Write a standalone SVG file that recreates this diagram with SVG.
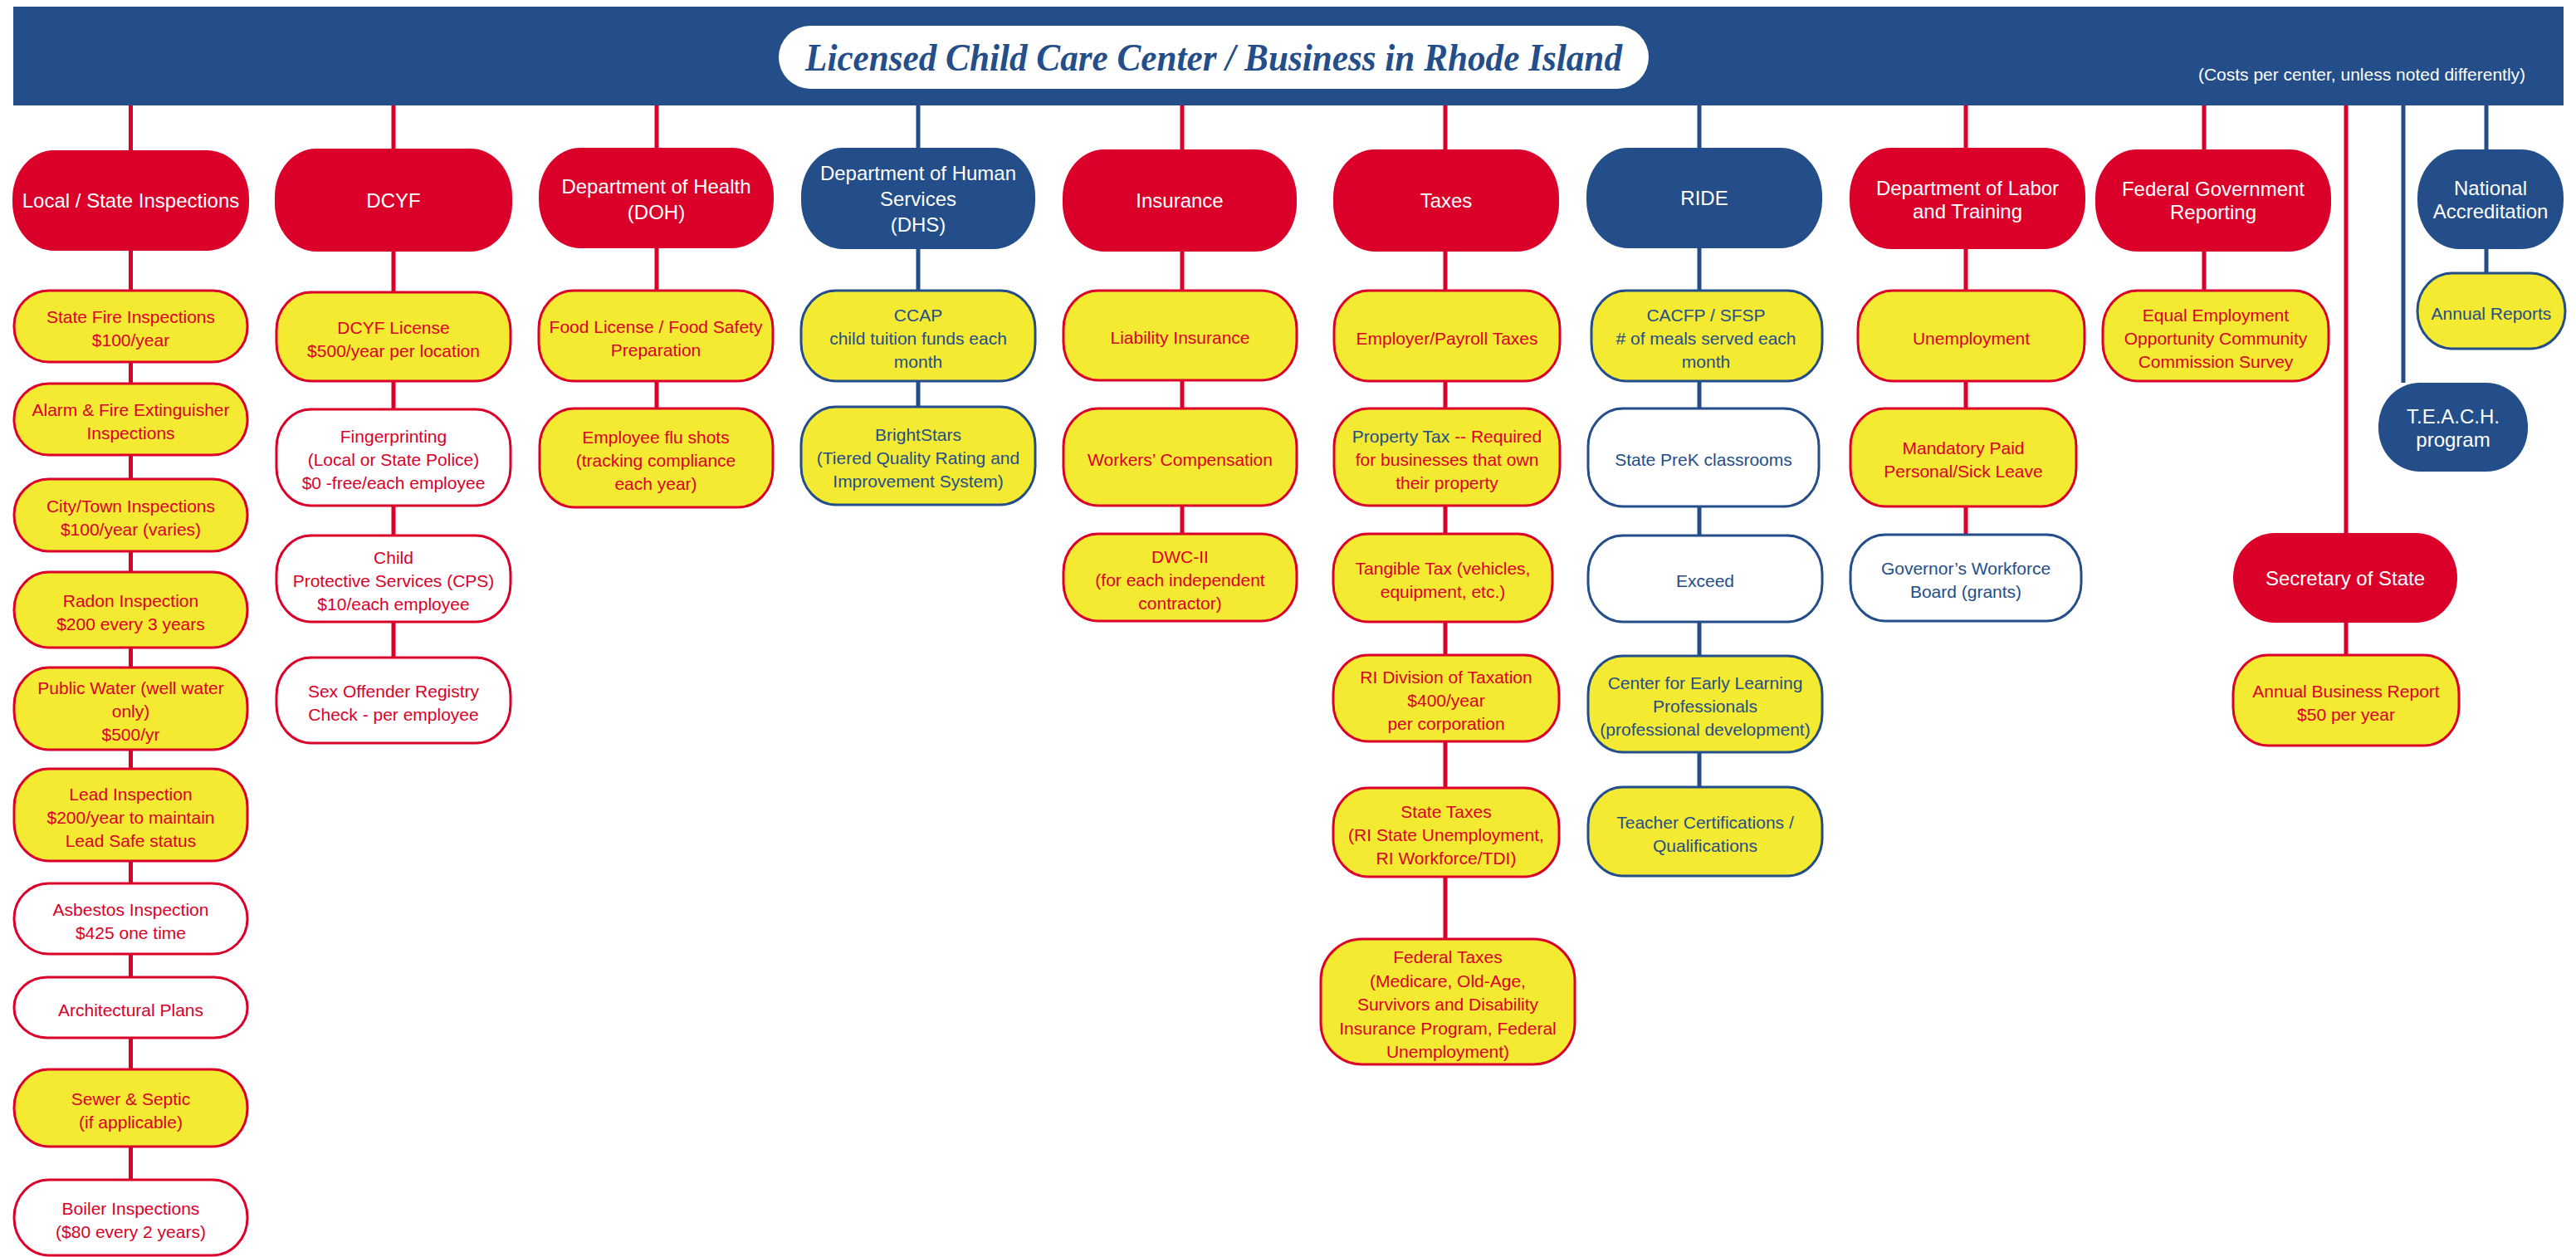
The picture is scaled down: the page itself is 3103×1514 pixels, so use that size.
<svg xmlns="http://www.w3.org/2000/svg" width="3103" height="1514" viewBox="0 0 3103 1514">
<style>
.hr{fill:#DA0029}
.hb{fill:#234E89}
.yr{fill:#F5EA32;stroke:#DA0029;stroke-width:3}
.yb{fill:#F5EA32;stroke:#234E89;stroke-width:3}
.wr{fill:#FFFFFF;stroke:#DA0029;stroke-width:3}
.wb{fill:#FFFFFF;stroke:#234E89;stroke-width:3}
text{font-family:"Liberation Sans",Arial,sans-serif;text-anchor:middle}
.th{font-size:24px;fill:#FFFFFF}
.tr{font-size:21px;fill:#DA0029}
.tb{font-size:21px;fill:#234E89}
.cr{stroke:#DA0029;stroke-width:5;fill:none}
.cb{stroke:#234E89;stroke-width:5;fill:none}
</style>
<rect width="3103" height="1514" fill="#FFFFFF"/>
<g id="banner">
<rect x="16" y="8" width="3072" height="119" fill="#234E89"/>
<rect x="938" y="31" width="1048" height="76" rx="38" ry="38" fill="#FFFFFF"/>
<text x="1462" y="85" font-family="'Liberation Serif',serif" font-style="italic" font-weight="bold" font-size="46" fill="#234E89" textLength="984" lengthAdjust="spacingAndGlyphs" style="font-family:'Liberation Serif',serif">Licensed Child Care Center / Business in Rhode Island</text>
<text x="2845" y="97" font-size="21" fill="#FFFFFF" style="font-size:21px">(Costs per center, unless noted differently)</text>
</g>
<g id="connectors">
<line class="cr" x1="157.5" y1="127" x2="157.5" y2="1421"/>
<line class="cr" x1="474" y1="127" x2="474" y2="792"/>
<line class="cr" x1="791" y1="127" x2="791" y2="492"/>
<line class="cb" x1="1106" y1="127" x2="1106" y2="490"/>
<line class="cr" x1="1424" y1="127" x2="1424" y2="643"/>
<line class="cr" x1="1741" y1="127" x2="1741" y2="1131"/>
<line class="cb" x1="2047" y1="127" x2="2047" y2="948"/>
<line class="cr" x1="2368" y1="127" x2="2368" y2="644"/>
<line class="cr" x1="2655" y1="127" x2="2655" y2="350"/>
<line class="cr" x1="2826" y1="127" x2="2826" y2="789"/>
<line class="cb" x1="2895" y1="127" x2="2895" y2="461"/>
<line class="cb" x1="2995" y1="127" x2="2995" y2="329"/>
</g>
<g id="local">
<rect class="hr" x="15" y="181" width="285" height="121" rx="50" ry="58"/>
<text class="th" x="157.5" y="250">Local / State Inspections</text>
</g>
<g id="state-fire"><rect class="yr" x="17" y="350" width="281" height="86" rx="42" ry="42"/><text class="tr" x="157.5" y="389">State Fire Inspections</text><text class="tr" x="157.5" y="417">$100/year</text></g>
<g id="alarm"><rect class="yr" x="17" y="462" width="281" height="86" rx="42" ry="42"/><text class="tr" x="157.5" y="501">Alarm &amp; Fire Extinguisher</text><text class="tr" x="157.5" y="529">Inspections</text></g>
<g id="city"><rect class="yr" x="17" y="577" width="281" height="87" rx="42" ry="43"/><text class="tr" x="157.5" y="616.5">City/Town Inspections</text><text class="tr" x="157.5" y="644.5">$100/year (varies)</text></g>
<g id="radon"><rect class="yr" x="17" y="689" width="281" height="91" rx="42" ry="45"/><text class="tr" x="157.5" y="730.5">Radon Inspection</text><text class="tr" x="157.5" y="758.5">$200 every 3 years</text></g>
<g id="water"><rect class="yr" x="17" y="804" width="281" height="99" rx="42" ry="46"/><text class="tr" x="157.5" y="835.5">Public Water (well water</text><text class="tr" x="157.5" y="863.5">only)</text><text class="tr" x="157.5" y="891.5">$500/yr</text></g>
<g id="lead"><rect class="yr" x="17" y="926" width="281" height="111" rx="42" ry="46"/><text class="tr" x="157.5" y="963.5">Lead Inspection</text><text class="tr" x="157.5" y="991.5">$200/year to maintain</text><text class="tr" x="157.5" y="1019.5">Lead Safe status</text></g>
<g id="asbestos"><rect class="wr" x="17" y="1064" width="281" height="85" rx="42" ry="42"/><text class="tr" x="157.5" y="1102.5">Asbestos Inspection</text><text class="tr" x="157.5" y="1130.5">$425 one time</text></g>
<g id="arch"><rect class="wr" x="17" y="1177" width="281" height="73" rx="40" ry="36"/><text class="tr" x="157.5" y="1223.5">Architectural Plans</text></g>
<g id="sewer"><rect class="yr" x="17" y="1288" width="281" height="93" rx="42" ry="46"/><text class="tr" x="157.5" y="1330.5">Sewer &amp; Septic</text><text class="tr" x="157.5" y="1358.5">(if applicable)</text></g>
<g id="boiler"><rect class="wr" x="17" y="1421" width="281" height="91" rx="42" ry="45"/><text class="tr" x="157.5" y="1462.5">Boiler Inspections</text><text class="tr" x="157.5" y="1490.5">($80 every 2 years)</text></g>
<g id="dcyf">
<rect class="hr" x="331" y="179" width="286" height="124" rx="50" ry="58"/>
<text class="th" x="474" y="250">DCYF</text>
</g>
<g id="dcyf-license"><rect class="yr" x="333" y="352" width="282" height="107" rx="42" ry="46"/><text class="tr" x="474" y="401.5">DCYF License</text><text class="tr" x="474" y="429.5">$500/year per location</text></g>
<g id="fingerprinting"><rect class="wr" x="333" y="493" width="282" height="116" rx="42" ry="46"/><text class="tr" x="474" y="533">Fingerprinting</text><text class="tr" x="474" y="561">(Local or State Police)</text><text class="tr" x="474" y="589">$0 -free/each employee</text></g>
<g id="cps"><rect class="wr" x="333" y="645" width="282" height="104" rx="42" ry="46"/><text class="tr" x="474" y="679">Child</text><text class="tr" x="474" y="707">Protective Services (CPS)</text><text class="tr" x="474" y="735">$10/each employee</text></g>
<g id="sex-offender"><rect class="wr" x="333" y="792" width="282" height="103" rx="42" ry="46"/><text class="tr" x="474" y="839.5">Sex Offender Registry</text><text class="tr" x="474" y="867.5">Check - per employee</text></g>
<g id="doh">
<rect class="hr" x="649" y="178" width="283" height="121" rx="50" ry="58"/>
<text class="th" x="790.5" y="233">Department of Health</text>
<text class="th" x="790.5" y="264">(DOH)</text>
</g>
<g id="food"><rect class="yr" x="649" y="350" width="282" height="109" rx="42" ry="46"/><text class="tr" x="790" y="400.5">Food License / Food Safety</text><text class="tr" x="790" y="428.5">Preparation</text></g>
<g id="flu"><rect class="yr" x="650" y="492" width="281" height="119" rx="42" ry="46"/><text class="tr" x="790" y="533.5">Employee flu shots</text><text class="tr" x="790" y="561.5">(tracking compliance</text><text class="tr" x="790" y="589.5">each year)</text></g>
<g id="dhs">
<rect class="hb" x="965" y="178" width="282" height="122" rx="50" ry="58"/>
<text class="th" x="1106" y="217">Department of Human</text>
<text class="th" x="1106" y="248">Services</text>
<text class="th" x="1106" y="279">(DHS)</text>
</g>
<g id="ccap"><rect class="yb" x="965" y="350" width="282" height="109" rx="42" ry="46"/><text class="tb" x="1106" y="386.5">CCAP</text><text class="tb" x="1106" y="414.5">child tuition funds each</text><text class="tb" x="1106" y="442.5">month</text></g>
<g id="brightstars"><rect class="yb" x="965" y="490" width="282" height="118" rx="42" ry="46"/><text class="tb" x="1106" y="531">BrightStars</text><text class="tb" x="1106" y="559">(Tiered Quality Rating and</text><text class="tb" x="1106" y="587">Improvement System)</text></g>
<g id="insurance">
<rect class="hr" x="1280" y="180" width="282" height="123" rx="50" ry="58"/>
<text class="th" x="1421" y="250">Insurance</text>
</g>
<g id="liability"><rect class="yr" x="1281" y="350" width="281" height="108" rx="42" ry="46"/><text class="tr" x="1421.5" y="414">Liability Insurance</text></g>
<g id="workers"><rect class="yr" x="1281" y="492" width="281" height="117" rx="42" ry="46"/><text class="tr" x="1421.5" y="560.5">Workers’ Compensation</text></g>
<g id="dwc"><rect class="yr" x="1281" y="643" width="281" height="105" rx="42" ry="46"/><text class="tr" x="1421.5" y="677.5">DWC-II</text><text class="tr" x="1421.5" y="705.5">(for each independent</text><text class="tr" x="1421.5" y="733.5">contractor)</text></g>
<g id="taxes">
<rect class="hr" x="1606" y="180" width="272" height="123" rx="50" ry="58"/>
<text class="th" x="1742" y="250">Taxes</text>
</g>
<g id="payroll"><rect class="yr" x="1607" y="350" width="272" height="109" rx="42" ry="46"/><text class="tr" x="1743" y="414.5">Employer/Payroll Taxes</text></g>
<g id="property"><rect class="yr" x="1607" y="492" width="272" height="117" rx="42" ry="46"/><text class="tr" x="1743" y="532.5"><tspan fill="#234E89">Property Tax</tspan> -- Required</text><text class="tr" x="1743" y="560.5">for businesses that own</text><text class="tr" x="1743" y="588.5">their property</text></g>
<g id="tangible"><rect class="yr" x="1606" y="643" width="264" height="106" rx="42" ry="46"/><text class="tr" x="1738" y="692">Tangible Tax (vehicles,</text><text class="tr" x="1738" y="720">equipment, etc.)</text></g>
<g id="ri-division"><rect class="yr" x="1606" y="789" width="272" height="104" rx="42" ry="46"/><text class="tr" x="1742" y="823">RI Division of Taxation</text><text class="tr" x="1742" y="851">$400/year</text><text class="tr" x="1742" y="879">per corporation</text></g>
<g id="state-taxes"><rect class="yr" x="1606" y="949" width="272" height="107" rx="42" ry="46"/><text class="tr" x="1742" y="984.5">State Taxes</text><text class="tr" x="1742" y="1012.5">(RI State Unemployment,</text><text class="tr" x="1742" y="1040.5">RI Workforce/TDI)</text></g>
<g id="federal-taxes"><rect class="yr" x="1591" y="1131" width="306" height="151" rx="50" ry="50"/><text class="tr" x="1744" y="1160">Federal Taxes</text><text class="tr" x="1744" y="1188.5">(Medicare, Old-Age,</text><text class="tr" x="1744" y="1217">Survivors and Disability</text><text class="tr" x="1744" y="1245.5">Insurance Program, Federal</text><text class="tr" x="1744" y="1274">Unemployment)</text></g>
<g id="ride">
<rect class="hb" x="1911" y="178" width="284" height="121" rx="50" ry="58"/>
<text class="th" x="2053" y="247">RIDE</text>
</g>
<g id="cacfp"><rect class="yb" x="1917" y="350" width="278" height="109" rx="42" ry="46"/><text class="tb" x="2055" y="386.5">CACFP / SFSP</text><text class="tb" x="2055" y="414.5"># of meals served each</text><text class="tb" x="2055" y="442.5">month</text></g>
<g id="prek"><rect class="wb" x="1913" y="492" width="278" height="118" rx="42" ry="46"/><text class="tb" x="2052" y="561">State PreK classrooms</text></g>
<g id="exceed"><rect class="wb" x="1913" y="645" width="282" height="104" rx="42" ry="46"/><text class="tb" x="2054" y="707">Exceed</text></g>
<g id="celp"><rect class="yb" x="1913" y="790" width="282" height="116" rx="42" ry="46"/><text class="tb" x="2054" y="830">Center for Early Learning</text><text class="tb" x="2054" y="858">Professionals</text><text class="tb" x="2054" y="886">(professional development)</text></g>
<g id="teacher"><rect class="yb" x="1913" y="948" width="282" height="107" rx="42" ry="46"/><text class="tb" x="2054" y="997.5">Teacher Certifications /</text><text class="tb" x="2054" y="1025.5">Qualifications</text></g>
<g id="dol">
<rect class="hr" x="2228" y="178" width="284" height="122" rx="50" ry="58"/>
<text class="th" x="2370" y="235">Department of Labor</text>
<text class="th" x="2370" y="263">and Training</text>
</g>
<g id="unemployment"><rect class="yr" x="2238" y="350" width="273" height="109" rx="42" ry="46"/><text class="tr" x="2374.5" y="414.5">Unemployment</text></g>
<g id="sick-leave"><rect class="yr" x="2229" y="492" width="272" height="118" rx="42" ry="46"/><text class="tr" x="2365" y="547">Mandatory Paid</text><text class="tr" x="2365" y="575">Personal/Sick Leave</text></g>
<g id="governor"><rect class="wb" x="2229" y="644" width="278" height="104" rx="42" ry="46"/><text class="tb" x="2368" y="692">Governor’s Workforce</text><text class="tb" x="2368" y="720">Board (grants)</text></g>
<g id="federal-gov">
<rect class="hr" x="2524" y="180" width="284" height="123" rx="50" ry="58"/>
<text class="th" x="2666" y="236">Federal Government</text>
<text class="th" x="2666" y="264">Reporting</text>
</g>
<g id="eeo"><rect class="yr" x="2533" y="350" width="272" height="109" rx="42" ry="46"/><text class="tr" x="2669" y="386.5">Equal Employment</text><text class="tr" x="2669" y="414.5">Opportunity Community</text><text class="tr" x="2669" y="442.5">Commission Survey</text></g>
<g id="sos">
<rect class="hr" x="2690" y="642" width="270" height="108" rx="50" ry="54"/>
<text class="th" x="2825" y="705">Secretary of State</text>
</g>
<g id="annual-business"><rect class="yr" x="2690" y="789" width="272" height="109" rx="42" ry="46"/><text class="tr" x="2826" y="839.5">Annual Business Report</text><text class="tr" x="2826" y="867.5">$50 per year</text></g>
<g id="teach">
<rect class="hb" x="2865" y="461" width="180" height="107" rx="50" ry="52"/>
<text class="th" x="2955" y="510">T.E.A.C.H.</text>
<text class="th" x="2955" y="538">program</text>
</g>
<g id="national">
<rect class="hb" x="2912" y="180" width="176" height="120" rx="50" ry="58"/>
<text class="th" x="3000" y="235">National</text>
<text class="th" x="3000" y="263">Accreditation</text>
</g>
<g id="annual-reports"><rect class="yb" x="2912" y="329" width="178" height="91" rx="42" ry="45"/><text class="tb" x="3001" y="384.5">Annual Reports</text></g>
</svg>
